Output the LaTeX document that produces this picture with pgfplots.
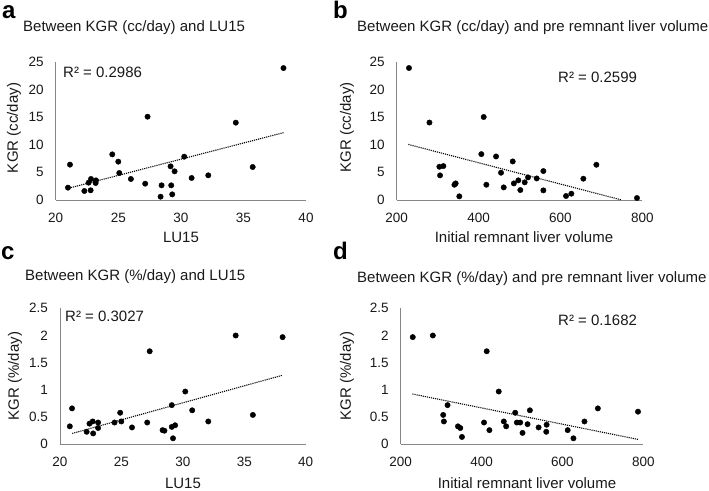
\documentclass[border=0pt]{standalone}
\usepackage{pgfplots}
\pgfplotsset{compat=1.18}
\usepackage{fontspec}
\setmainfont{Liberation Sans}
\definecolor{axgray}{RGB}{134,134,134}
\definecolor{txt}{RGB}{25,25,25}

\pgfplotsset{
 panel/.style={
  scale only axis, anchor=south west,
  axis x line*=bottom, axis y line*=left,
  axis line style={draw=axgray, line width=0.9pt},
  major tick length=0pt,
  tick label style={font=\fontsize{13.5}{15}\selectfont, text=txt},
  /pgf/number format/assume math mode=true,
  xticklabel style={yshift=-9.5pt},
  yticklabel style={xshift=-8.5pt},
  clip=false,
 },
 pts/.style={only marks, mark=*, mark size=2.7pt, mark options={fill=black, draw=black}, black},
 trend/.style={no marks, black, densely dotted, line width=1.1pt},
}
\newcommand{\ttl}{\fontsize{15}{17}\selectfont}
\newcommand{\lab}{\fontsize{15}{17}\selectfont}
\newcommand{\rr}{\fontsize{15}{17}\selectfont}
\newcommand{\lett}{\fontsize{24}{26}\selectfont\bfseries}

\begin{document}
\begin{tikzpicture}[x=1pt,y=1pt]
\useasboundingbox (0pt,0pt) rectangle (709pt,490pt);

% ---------- panel a ----------
\begin{axis}[panel, at={(55.7pt,290pt)}, width=250.3pt, height=138.3pt,
  xmin=20, xmax=40, ymin=0, ymax=25, xtick={20,25,30,35,40}, ytick={0,5,10,15,20,25}]
\addplot[pts] coordinates {
(38.2,23.85) (27.34,15.06) (34.39,13.98) (24.52,8.25) (30.27,7.83) (21.14,6.39)
(25.0,6.93) (29.18,6.08) (35.74,5.96) (25.08,4.88) (29.5,5.18) (32.19,4.46)
(30.86,3.98) (26.01,3.80) (22.82,3.80) (23.22,3.55) (22.63,3.13) (23.19,3.07)
(27.15,2.95) (28.46,2.65) (29.23,2.65) (20.98,2.23) (22.29,1.63) (22.79,1.75)
(29.31,1.02) (28.38,0.60)};
\addplot[trend] coordinates {(20.9,2.05) (38.2,12.17)};
\end{axis}

% ---------- panel b ----------
\begin{axis}[panel, at={(396.7pt,290pt)}, width=245.6pt, height=138.3pt,
  xmin=200, xmax=800, ymin=0, ymax=25, xtick={200,400,600,800}, ytick={0,5,10,15,20,25}]
\addplot[pts] coordinates {
(230,23.86) (280,14.0) (412.5,15.0) (406.8,8.29) (442.7,7.87) (483.4,6.97)
(687.8,6.37) (304.2,6.01) (314,6.13) (558.3,5.23) (454.9,4.93) (305.9,4.45)
(542,3.9) (656,3.85) (520.8,4.09) (497.2,3.55) (512.7,3.19) (486.2,3.0)
(344,3.0) (341,2.76) (419,2.76) (461.4,2.28) (502,1.80) (558.3,1.74)
(626.7,1.14) (613.7,0.72) (353,0.66) (787,0.36)};
\addplot[trend] coordinates {(228.5,10.04) (749.7,0)};
\end{axis}

% ---------- panel c ----------
\begin{axis}[panel, at={(60pt,45.7pt)}, width=245.7pt, height=136pt,
  xmin=20, xmax=40, ymin=0, ymax=2.5, xtick={20,25,30,35,40}, ytick={0,0.5,1,1.5,2,2.5}]
\addplot[pts] coordinates {
(38.12,1.97) (34.3,2.00) (27.3,1.71) (30.2,0.97) (20.98,0.66) (29.1,0.72)
(30.76,0.625) (24.9,0.58) (35.7,0.54) (32.07,0.42) (24.99,0.42) (24.44,0.40)
(27.1,0.40) (22.66,0.42) (23.1,0.40) (22.4,0.38) (29.37,0.35) (29.1,0.32)
(20.8,0.33) (25.86,0.31) (23.1,0.30) (28.35,0.26) (28.5,0.25) (22.17,0.23)
(22.7,0.20) (29.2,0.11)};
\addplot[trend] coordinates {(21.0,0.20) (38.12,1.27)};
\end{axis}

% ---------- panel d ----------
\begin{axis}[panel, at={(400.7pt,45.7pt)}, width=242.6pt, height=136pt,
  xmin=200, xmax=800, ymin=0, ymax=2.5, xtick={200,400,600,800}, ytick={0,0.5,1,1.5,2,2.5}]
\addplot[pts] coordinates {
(229.8,1.97) (279.5,2.00) (412.7,1.71) (442.5,0.97) (315.9,0.72) (687.6,0.66)
(519.5,0.625) (786.9,0.60) (483.1,0.58) (305.1,0.54) (306.8,0.42) (654.5,0.42)
(406.1,0.40) (455,0.42) (487.3,0.40) (495.5,0.40) (513.7,0.37) (560.9,0.36)
(460.8,0.33) (341.6,0.33) (347.4,0.30) (541,0.31) (419.4,0.26) (613,0.26)
(560,0.23) (501.3,0.21) (351.5,0.135) (627.2,0.11)};
\addplot[trend] coordinates {(229,0.925) (787,0.09)};
\end{axis}

% ---------- texts ----------
\node[anchor=base west, inner sep=0, text=black] at (2pt,471pt) {\lett a};
\node[anchor=base west, inner sep=0, text=black] at (333pt,471pt) {\lett b};
\node[anchor=base west, inner sep=0, text=black] at (1pt,230pt) {\lett c};
\node[anchor=base west, inner sep=0, text=black] at (333pt,230pt) {\lett d};

\node[anchor=base west, inner sep=0, text=txt] at (23pt,458pt) {\ttl Between KGR (cc/day) and LU15};
\node[anchor=base west, inner sep=0, text=txt] at (357pt,458pt) {\ttl Between KGR (cc/day) and pre remnant liver volume};
\node[anchor=base west, inner sep=0, text=txt] at (25pt,209pt) {\ttl Between KGR (\%/day) and LU15};
\node[anchor=base west, inner sep=0, text=txt] at (357pt,207pt) {\ttl Between KGR (\%/day) and pre remnant liver volume};

\node[anchor=west, inner sep=0, text=txt] at (63pt,417.3pt) {\rr R² = 0.2986};
\node[anchor=west, inner sep=0, text=txt] at (558pt,413pt) {\rr R² = 0.2599};
\node[anchor=west, inner sep=0, text=txt] at (65pt,173.3pt) {\rr R² = 0.3027};
\node[anchor=west, inner sep=0, text=txt] at (558pt,170pt) {\rr R² = 0.1682};

\node[rotate=90, inner sep=0, text=txt] at (14pt,362pt) {\lab KGR (cc/day)};
\node[rotate=90, inner sep=0, text=txt] at (347pt,362.5pt) {\lab KGR (cc/day)};
\node[rotate=90, inner sep=0, text=txt] at (15pt,114pt) {\lab KGR (\%/day)};
\node[rotate=90, inner sep=0, text=txt] at (347pt,114pt) {\lab KGR (\%/day)};

\node[anchor=base, inner sep=0, text=txt] at (181pt,247pt) {\lab LU15};
\node[anchor=base, inner sep=0, text=txt] at (524pt,247pt) {\lab Initial remnant liver volume};
\node[anchor=base, inner sep=0, text=txt] at (183pt,2pt) {\lab LU15};
\node[anchor=base, inner sep=0, text=txt] at (527pt,2pt) {\lab Initial remnant liver volume};
\end{tikzpicture}
\end{document}
